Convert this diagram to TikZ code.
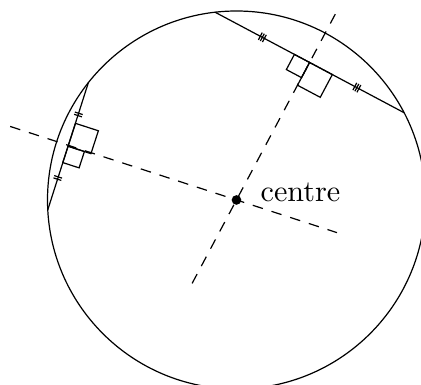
\documentclass[tikz,border=0pt]{standalone}
\usetikzlibrary{calc}
\begin{document}
\begin{tikzpicture}[line join=miter,
  guide/.style={dash pattern=on 3.5pt off 3pt},
  rightmark/.style={line width=0.4pt},
  hatch/.style={line width=0.4pt}]
  \useasboundingbox (-2.753,-2.153) rectangle (2.148,2.328);
  % Circle and its centre.
  \coordinate (O) at (0,0);
  \draw (O) circle (2.2);
  \fill (O) circle (1.6pt);
  \node[anchor=base west,inner sep=0pt] (lbl) at (0.274,-0.02) {centre};

  % Upper chord with its perpendicular bisector.
  \coordinate (A) at (96.5:2.2);
  \coordinate (B) at (27.5:2.2);
  \coordinate (M) at ($(A)!0.5!(B)$);
  \coordinate (P) at (62:2.46);
  \coordinate (Q) at (242:1.1);
  \draw (A) -- (B);
  \draw[guide] (Q) -- (P);
  \begin{scope}[shift={(M)},rotate=-28]
    \draw[rightmark] (0,0) rectangle (-0.2,-0.2);
    \draw[rightmark] (0,0) rectangle (0.3,-0.3);
    \foreach \s in {-0.623,0.623}
      \foreach \d in {-0.027,0,0.027}
        \draw[hatch] (\s+\d,-0.048) -- (\s+\d,0.048);
  \end{scope}

  % Left chord with its perpendicular bisector.
  \coordinate (C) at (141.6:2.2);
  \coordinate (D) at (183:2.2);
  \coordinate (N) at ($(C)!0.5!(D)$);
  \coordinate (R) at (162:2.77);
  \coordinate (S) at (-18:1.23);
  \draw (C) -- (D);
  \draw[guide] (R) -- (S);
  \begin{scope}[shift={(N)},rotate=72]
    \draw[rightmark] (0,0) rectangle (-0.2,-0.2);
    \draw[rightmark] (0,0) rectangle (0.28,-0.28);
    \foreach \s in {-0.389,0.389}
      \foreach \d in {-0.014,0.014}
        \draw[hatch] (\s+\d,-0.048) -- (\s+\d,0.048);
  \end{scope}
\end{tikzpicture}
\end{document}
